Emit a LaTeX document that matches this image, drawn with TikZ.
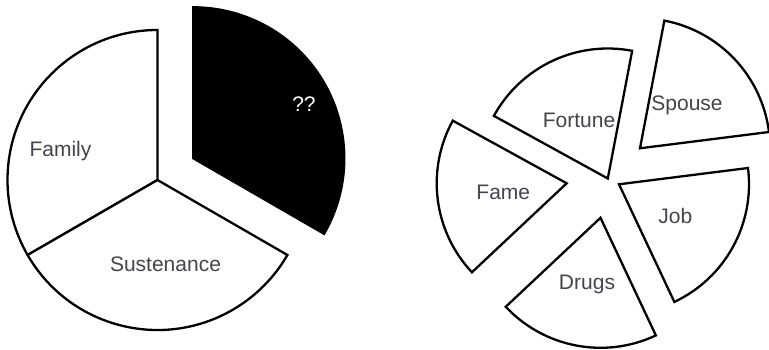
\documentclass[tikz,border=0pt]{standalone}
\usepackage{fontspec}
\setmainfont{Liberation Sans}
\definecolor{labelgray}{RGB}{68,68,76}
\begin{document}
\begin{tikzpicture}[x=1pt,y=1pt,
  slice/.style={draw=black,line width=2.3pt,line join=miter,fill=white},
  darkslice/.style={draw=black,line width=2.3pt,fill=black},
  lbl/.style={font=\fontsize{21}{25}\selectfont,text=labelgray,anchor=base,inner sep=0pt},
  wlbl/.style={font=\fontsize{21}{25}\selectfont,text=white,anchor=base,inner sep=0pt}]
\useasboundingbox (0,0) rectangle (769,350);
% left pie
\coordinate (L) at (157.5,170);
\coordinate (B) at (193.3,191.7);
\draw[slice] (L) -- ++(90:150) arc[start angle=90,end angle=210,radius=150] -- cycle;
\draw[slice] (L) -- ++(210:150) arc[start angle=210,end angle=330,radius=150] -- cycle;
\draw[darkslice] (B) -- ++(-30:151) arc[start angle=-30,end angle=90,radius=151] -- cycle;
\node[lbl] (family) at (60.5,193) {Family};
\node[lbl] (sust) at (165.5,78) {Sustenance};
\node[wlbl] (qq) at (304,238.3) {??};
% right pie
\coordinate (Fo) at (607.8,171.5);
\coordinate (Sp) at (640,201.7);
\coordinate (Jo) at (619,165.7);
\coordinate (Dr) at (600.5,132.2);
\coordinate (Fa) at (566.7,166.7);
\draw[slice] (Sp) -- ++(7.2:130) arc[start angle=7.2,end angle=79.2,radius=130] -- cycle;
\draw[slice] (Fo) -- ++(79.2:130) arc[start angle=79.2,end angle=151.2,radius=130] -- cycle;
\draw[slice] (Fa) -- ++(151.2:130) arc[start angle=151.2,end angle=223.2,radius=130] -- cycle;
\draw[slice] (Dr) -- ++(223.2:130) arc[start angle=223.2,end angle=295.2,radius=130] -- cycle;
\draw[slice] (Jo) -- ++(-64.8:130) arc[start angle=-64.8,end angle=7.2,radius=130] -- cycle;
\node[lbl] (fortune) at (579,222.7) {Fortune};
\node[lbl] (spouse) at (687,239.5) {Spouse};
\node[lbl] (fame) at (503.3,150.7) {Fame};
\node[lbl] (job) at (675.3,126) {Job};
\node[lbl] (drugs) at (587,60.7) {Drugs};
\end{tikzpicture}
\end{document}
